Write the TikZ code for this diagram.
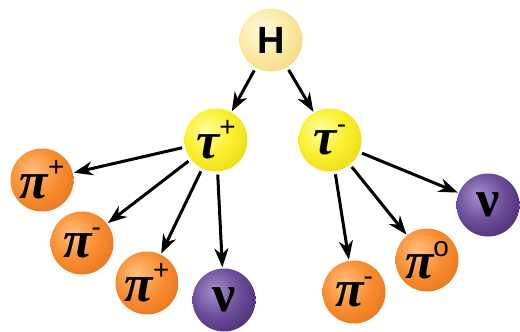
\documentclass[tikz,border=0pt]{standalone}
\usepackage{fontspec}
\setmainfont{Liberation Sans}
\newfontfamily\greekfont{Liberation Serif}
\usetikzlibrary{arrows.meta}
\definecolor{hlight}{HTML}{FFF9E0}
\definecolor{hmid}{HTML}{FCEBA8}
\definecolor{hdark}{HTML}{EDC860}
\definecolor{taulight}{HTML}{FFFFA8}
\definecolor{taumid}{HTML}{FCF030}
\definecolor{taudark}{HTML}{DCC800}
\definecolor{pilight}{HTML}{FFC080}
\definecolor{pimid}{HTML}{F88C30}
\definecolor{pidark}{HTML}{D8600C}
\definecolor{nulight}{HTML}{A690CC}
\definecolor{numid}{HTML}{6A4C98}
\definecolor{nudark}{HTML}{2E1254}
\pgfdeclareradialshading{hshade}{\pgfpoint{-8bp}{8bp}}{color(0bp)=(hlight); color(18bp)=(hmid); color(50bp)=(hdark); color(100bp)=(hdark)}
\pgfdeclareradialshading{taushade}{\pgfpoint{-8bp}{8bp}}{color(0bp)=(taulight); color(18bp)=(taumid); color(50bp)=(taudark); color(100bp)=(taudark)}
\pgfdeclareradialshading{pishade}{\pgfpoint{-8bp}{8bp}}{color(0bp)=(pilight); color(20bp)=(pimid); color(50bp)=(pidark); color(100bp)=(pidark)}
\pgfdeclareradialshading{nushade}{\pgfpoint{-8bp}{8bp}}{color(0bp)=(nulight); color(20bp)=(numid); color(50bp)=(nudark); color(100bp)=(nudark)}
\newcommand\charge[1]{\raisebox{0.42em}{\normalfont\fontsize{28}{28}\selectfont #1}}
\newcommand\gr[1]{{\greekfont\bfseries\itshape #1}}
\newcommand\grup[1]{{\greekfont\bfseries #1}}

\begin{document}
\begin{tikzpicture}[x=1pt, y=-1pt,
    ball/.style={circle, minimum size=63pt, inner sep=0pt, font=\fontsize{52}{52}\selectfont},
    higgs/.style={ball, shading=hshade, font=\bfseries\fontsize{38}{38}\selectfont},
    tau/.style={ball, shading=taushade},
    pion/.style={ball, shading=pishade},
    neutrino/.style={ball, shading=nushade},
    decay/.style={-{Stealth[length=19pt, width=14pt, inset=6pt]}, line width=3pt, shorten <=3pt, shorten >=1pt}
  ]
    \useasboundingbox (0,0) rectangle (520,332);
    \node[higgs] (h) at (271,40) {H};
    \node[tau] (taup) at (216,140) {\gr{τ}\charge{+}};
    \node[tau] (taum) at (330,140) {\gr{τ}\charge{-}};
    % tau+ branch
    \node[pion] (pip1) at (42,180) {\gr{π}\charge{+}};
    \node[pion] (pim1) at (82,243) {\gr{π}\charge{-}};
    \node[pion] (pip2) at (147,283) {\gr{π}\charge{+}};
    \node[neutrino] (nu1) at (224,300) {\grup{ν}};
    % tau- branch
    \node[pion] (pim2) at (354,292) {\gr{π}\charge{-}};
    \node[pion] (pi0) at (427,260) {\gr{π}\charge{o}};
    \node[neutrino] (nu2) at (488,205) {\grup{ν}};

    \draw[decay] (h) -- (taup);
    \draw[decay] (h) -- (taum);
    \draw[decay] (taup) -- (pip1);
    \draw[decay] (taup) -- (pim1);
    \draw[decay] (taup) -- (pip2);
    \draw[decay] (taup) -- (nu1);
    \draw[decay] (taum) -- (pim2);
    \draw[decay] (taum) -- (pi0);
    \draw[decay] (taum) -- (nu2);
  \end{tikzpicture}
\end{document}
